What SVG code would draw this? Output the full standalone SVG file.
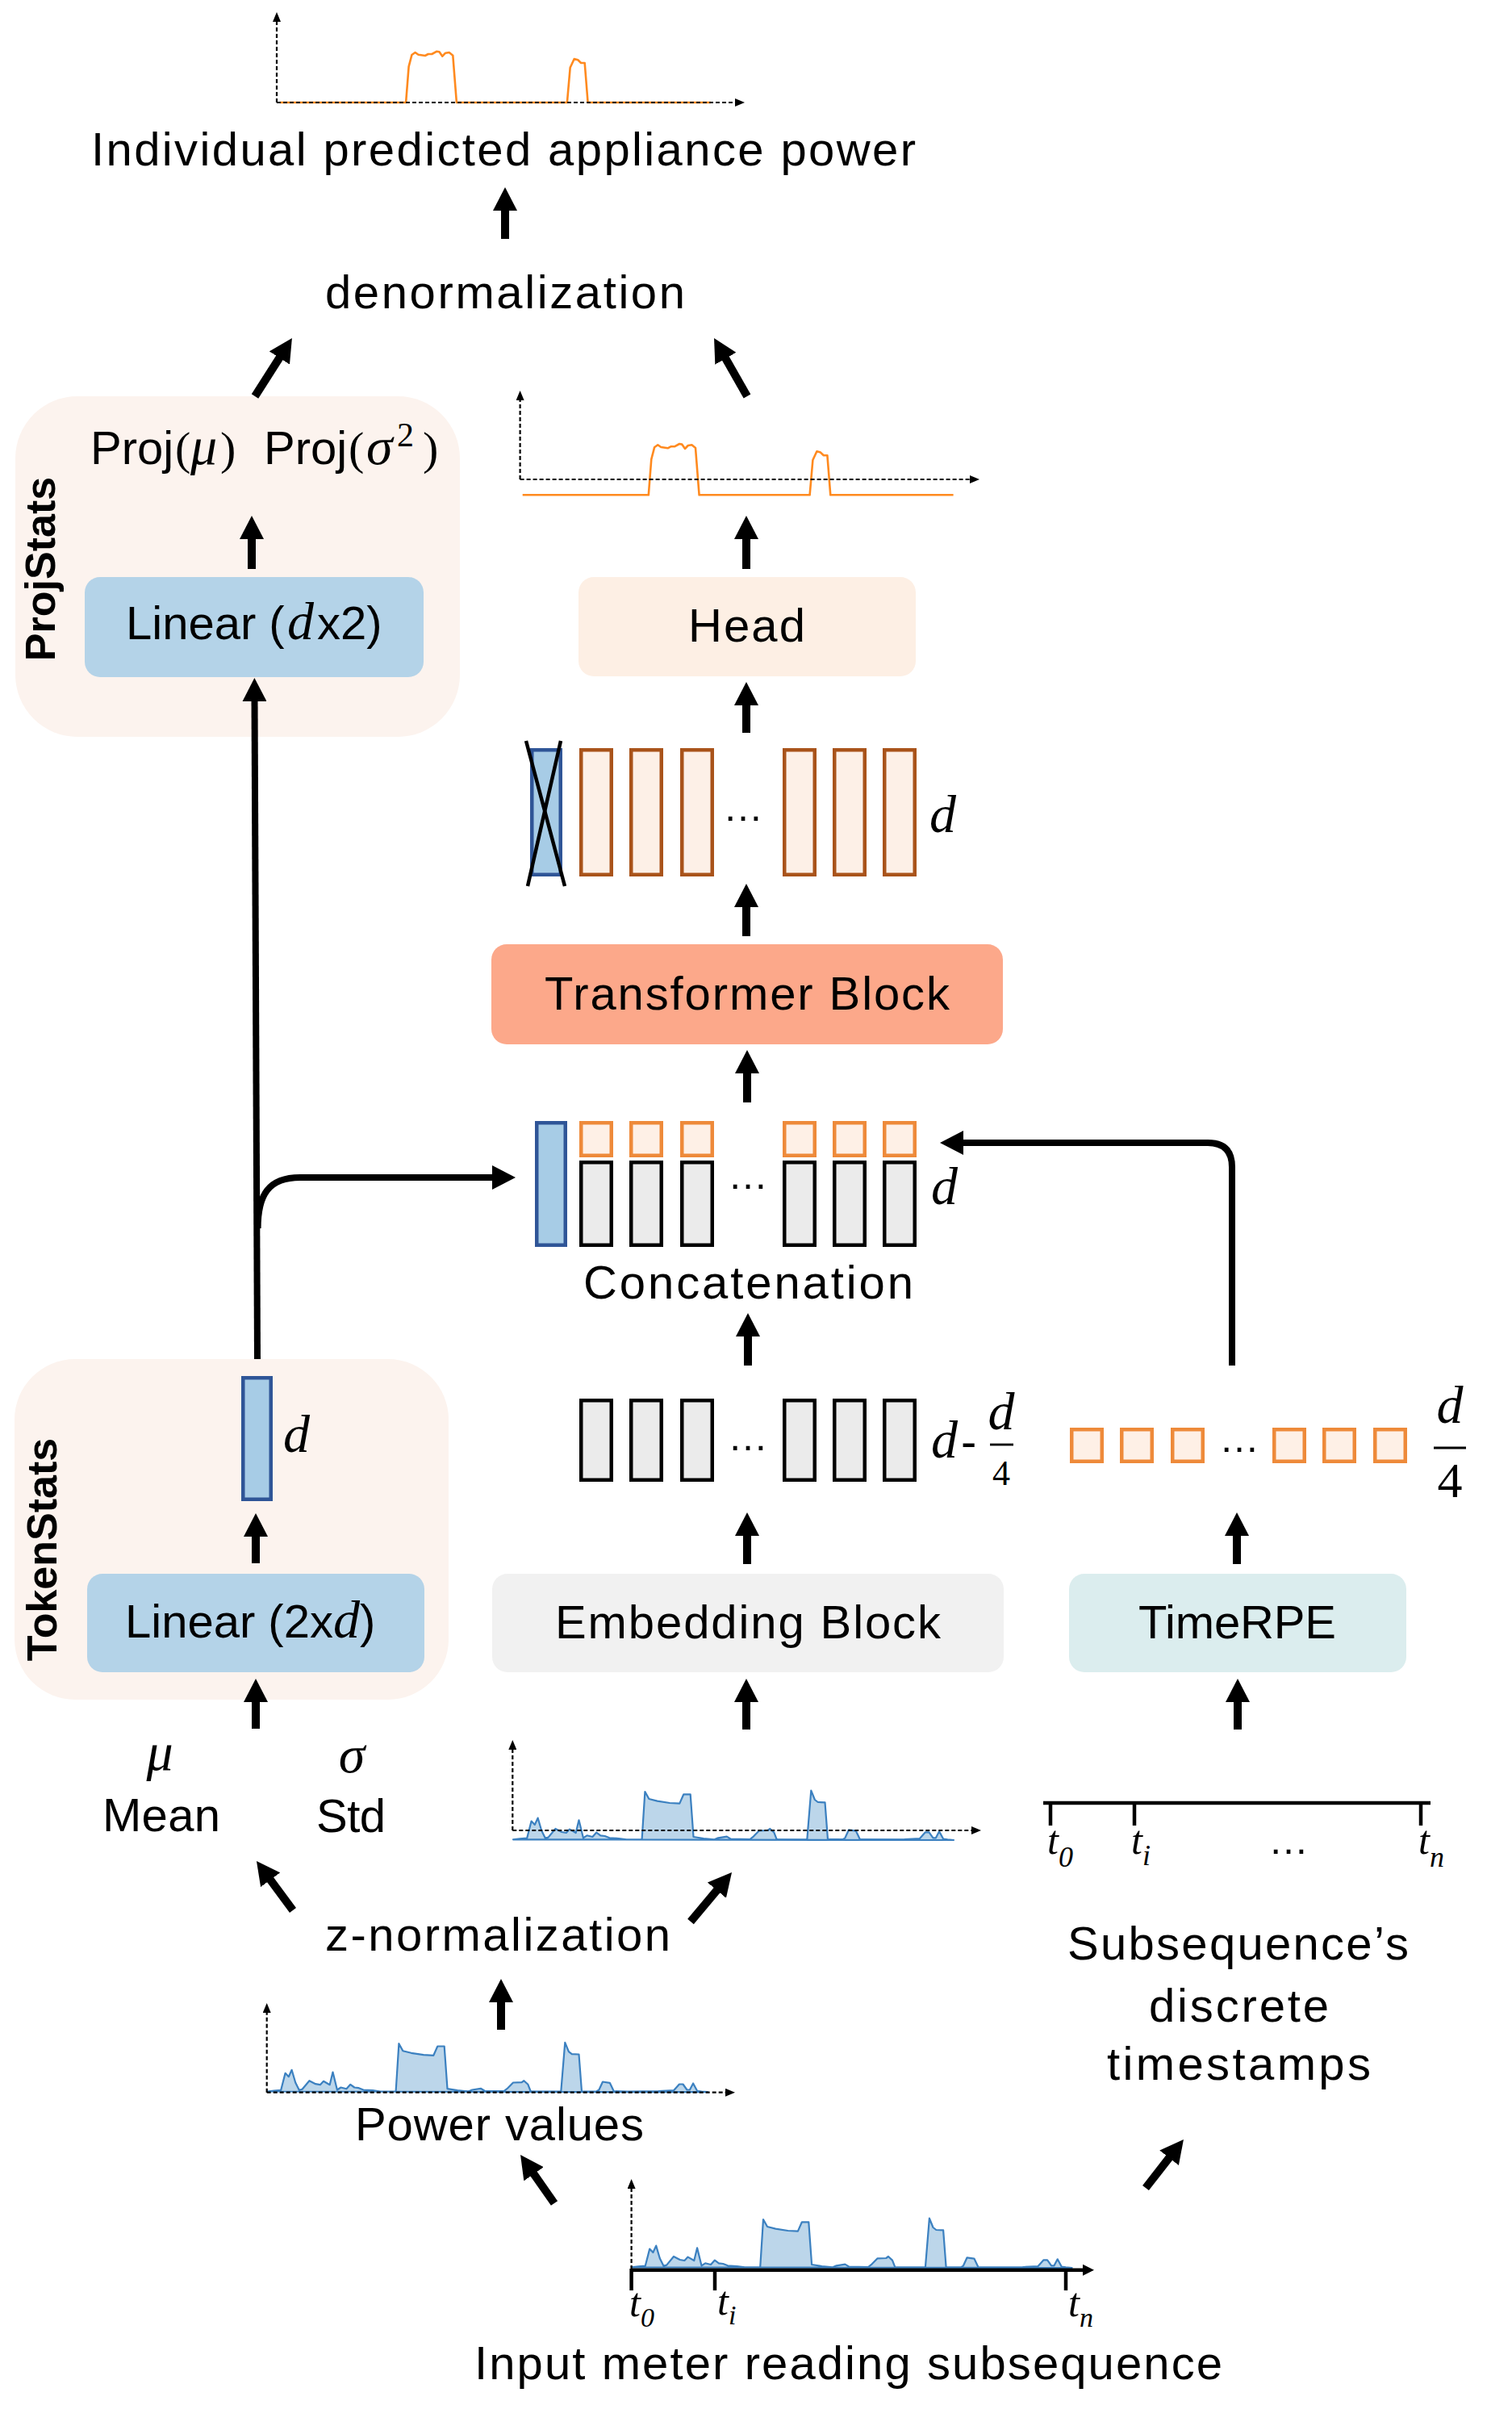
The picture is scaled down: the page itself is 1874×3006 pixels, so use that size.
<svg xmlns="http://www.w3.org/2000/svg" xmlns:xlink="http://www.w3.org/1999/xlink" width="1874" height="3006" viewBox="0 0 1874 3006">
<style>
.t{font-family:"Liberation Sans",Arial,sans-serif;font-size:58px;fill:#000}
.m{font-family:"Liberation Serif","Times New Roman",serif;font-style:italic;font-size:66px;fill:#000}
.mr{font-family:"Liberation Serif","Times New Roman",serif;font-style:normal}
.lab{font-family:"Liberation Sans",Arial,sans-serif;font-weight:bold;font-size:52px;fill:#000}
.dots{font-family:"Liberation Sans",Arial,sans-serif;font-size:50px;fill:#000;text-anchor:middle}
.arr{stroke:#000;stroke-width:10;fill:none;marker-end:url(#ah)}
.con{stroke:#000;stroke-width:8;fill:none;marker-end:url(#ah)}
.ax{stroke:#000;stroke-width:2.2;stroke-dasharray:5 3;fill:none;marker-end:url(#sa)}
.sig{fill:#BCD6EA;stroke:#3B80C0;stroke-width:2.2;stroke-linejoin:round}
.osig{fill:none;stroke:#FF8A1F;stroke-width:2.6;stroke-linejoin:round}
.tg{fill:#EBEBEB;stroke:#000;stroke-width:4.5}
.tb{fill:#A7CCE6;stroke:#2F5597;stroke-width:4.5}
.tbr{fill:#FDF0E7;stroke:#A9531A;stroke-width:4.5}
.to{fill:#FEF0E6;stroke:#EE8A3A;stroke-width:4.5}
.tick{stroke:#000;stroke-width:4.5}
.ts{font-family:"Liberation Serif","Times New Roman",serif;font-style:italic;font-size:50px;fill:#000}
</style>
<defs>
<marker id="ah" viewBox="0 0 29 30" refX="2" refY="15" markerWidth="29" markerHeight="30" markerUnits="userSpaceOnUse" orient="auto"><path d="M0,0 L29,15 L0,30 Z" fill="#000"/></marker>
<marker id="sa" viewBox="0 0 12 10" refX="1" refY="5" markerWidth="12" markerHeight="10" markerUnits="userSpaceOnUse" orient="auto"><path d="M0,0 L12,5 L0,10 Z" fill="#000"/></marker>
<marker id="sb" viewBox="0 0 14 14" refX="1" refY="7" markerWidth="14" markerHeight="14" markerUnits="userSpaceOnUse" orient="auto"><path d="M0,0 L14,7 L0,14 Z" fill="#000"/></marker>
<path id="sig" d="M0,0 L8.4,-1 L17.2,-1.7 L22.6,-22.7 L26.8,-18.3 L30.6,-26.7 L35.2,-11 L39.8,-1.7 L43.6,-2.7 L52.4,-13.3 L60.1,-9.3 L65.8,-8.3 L70,-12.7 L77.7,-8.3 L81.5,-24 L86.9,-2 L91.5,-5 L98.4,-3.3 L103.3,-8.7 L108.3,-5 L113.7,-4.3 L119.4,-2 L130.9,-1.3 L140.5,0 L159.6,0 L163.4,-59.3 L168.4,-50.3 L178.7,-47.7 L194,-45.3 L206.3,-44.7 L211.3,-56 L219.7,-56 L223.5,-3.3 L236.1,-1.3 L249.5,0 L254.1,-2 L264.8,-3.7 L269.8,-0.7 L293.5,-0.3 L298.1,-4 L305,-11 L315.7,-11.3 L318.4,-13.3 L323.4,-8.7 L326.8,0 L364.3,0 L369.3,-60.7 L373.9,-49.3 L377.7,-46.3 L386.5,-46 L390,0 L408.3,0 L411.4,-2 L416,-12 L424.8,-10.7 L429.8,-0.3 L446.6,0 L484.9,-0.3 L504,-1.3 L510.9,-9 L515.5,-9 L520.5,-2 L523.9,-2 L528.1,-10 L533.1,-0.7 L538.5,0 L546,0.7 Z"/>
<path id="osig" d="M0,0 L156.1,0 L159.6,-44.3 L163.4,-59 L167.6,-62 L171.5,-59.3 L179.9,-58 L183.7,-60 L188.3,-60 L194.4,-63.3 L197.5,-62.7 L201.3,-57.3 L205.1,-61.3 L209.7,-62 L214.3,-58.3 L218.9,0 L355.9,0 L359.7,-43.3 L364.7,-54 L369.3,-52.7 L373.1,-49 L377.7,-49 L381.6,0 L533.9,0"/>
</defs>
<rect width="1874" height="3006" fill="#fff"/>

<g id="output-plot">
<use xlink:href="#osig" href="#osig" class="osig" transform="translate(347,127)"/>
<path class="ax" d="M343,127 L343,26"/>
<path class="ax" d="M343,127 L912,127"/>
</g>
<g id="title"><text class="t" x="113" y="205" textLength="1022" lengthAdjust="spacing">Individual predicted appliance power</text></g>
<g id="denormalization"><text class="t" x="403" y="382" textLength="446" lengthAdjust="spacing">denormalization</text></g>

<g id="projstats">
<rect x="19" y="491" width="551" height="422" rx="77" fill="#FCF3EE"/>
<text class="lab" transform="translate(68,705) rotate(-90)" text-anchor="middle">ProjStats</text>
<text class="t" x="112" y="575">Proj<tspan class="mr" x="217">(</tspan><tspan class="m" x="236" font-size="60">μ</tspan><tspan class="mr" x="273">)</tspan></text>
<text class="t" x="327" y="575">Proj<tspan class="mr" x="432">(</tspan><tspan class="m" x="454" font-size="60">σ</tspan><tspan class="mr" x="492" y="553" font-size="42">2</tspan><tspan class="mr" x="524" y="575">)</tspan></text>
<rect x="105" y="715" width="420" height="124" rx="19" fill="#B4D3E8"/>
<text class="t" x="156" y="792">Linear (<tspan class="m" x="356" font-size="62">d</tspan><tspan x="393">x2)</tspan></text>
</g>

<g id="head-plot">
<use xlink:href="#osig" href="#osig" class="osig" transform="translate(647.7,613.3)"/>
<path class="ax" d="M644.6,594 L644.6,495"/>
<path class="ax" d="M644.6,594 L1203,594"/>
</g>

<g id="head">
<rect x="717" y="715" width="418" height="123" rx="19" fill="#FDEFE4"/>
<text class="t" x="853" y="795" textLength="145" lengthAdjust="spacing">Head</text>
</g>

<g id="output-tokens">
<rect class="tb" x="659.25" y="929.25" width="35.5" height="154.5"/>
<line x1="652" y1="918" x2="700" y2="1098" stroke="#000" stroke-width="4.5"/>
<line x1="695" y1="918" x2="654" y2="1098" stroke="#000" stroke-width="4.5"/>
<rect class="tbr" x="720.25" y="929.25" width="37.5" height="154.5"/>
<rect class="tbr" x="782.25" y="929.25" width="37.5" height="154.5"/>
<rect class="tbr" x="845.25" y="929.25" width="37.5" height="154.5"/>
<rect class="tbr" x="972.25" y="929.25" width="37.5" height="154.5"/>
<rect class="tbr" x="1034.25" y="929.25" width="37.5" height="154.5"/>
<rect class="tbr" x="1096.25" y="929.25" width="37.5" height="154.5"/>
<text class="dots" x="921" y="1017">…</text>
<text class="m" x="1152" y="1031">d</text>
</g>

<g id="transformer">
<rect x="609" y="1170" width="634" height="124" rx="19" fill="#FCA88A"/>
<text class="t" x="675" y="1251" textLength="502" lengthAdjust="spacing">Transformer Block</text>
</g>

<g id="concatenation">
<rect class="tb" x="665.25" y="1391.25" width="35.5" height="151.5"/>
<rect class="to" x="720.25" y="1391.25" width="37.5" height="40.5"/>
<rect class="to" x="782.25" y="1391.25" width="37.5" height="40.5"/>
<rect class="to" x="845.25" y="1391.25" width="37.5" height="40.5"/>
<rect class="to" x="972.25" y="1391.25" width="37.5" height="40.5"/>
<rect class="to" x="1034.25" y="1391.25" width="37.5" height="40.5"/>
<rect class="to" x="1096.25" y="1391.25" width="37.5" height="40.5"/>
<rect class="tg" x="720.25" y="1440.25" width="37.5" height="102.5"/>
<rect class="tg" x="782.25" y="1440.25" width="37.5" height="102.5"/>
<rect class="tg" x="845.25" y="1440.25" width="37.5" height="102.5"/>
<rect class="tg" x="972.25" y="1440.25" width="37.5" height="102.5"/>
<rect class="tg" x="1034.25" y="1440.25" width="37.5" height="102.5"/>
<rect class="tg" x="1096.25" y="1440.25" width="37.5" height="102.5"/>
<text class="dots" x="927" y="1473">…</text>
<text class="m" x="1154" y="1492">d</text>
<text class="t" x="723" y="1609" textLength="409" lengthAdjust="spacing">Concatenation</text>
</g>

<g id="tokenstats">
<rect x="18" y="1684" width="538" height="422" rx="75" fill="#FCF3EE"/>
<text class="lab" transform="translate(70,1920) rotate(-90)" text-anchor="middle">TokenStats</text>
<rect class="tb" x="301.25" y="1707.25" width="34.5" height="150.5"/>
<text class="m" x="351" y="1799">d</text>
<rect x="108" y="1950" width="418" height="122" rx="19" fill="#B4D3E8"/>
<text class="t" x="155" y="2029">Linear (2x<tspan class="m" font-size="62">d</tspan>)</text>
</g>

<g id="embedding-tokens">
<rect class="tg" x="720.25" y="1735.25" width="37.5" height="98.5"/>
<rect class="tg" x="782.25" y="1735.25" width="37.5" height="98.5"/>
<rect class="tg" x="845.25" y="1735.25" width="37.5" height="98.5"/>
<rect class="tg" x="972.25" y="1735.25" width="37.5" height="98.5"/>
<rect class="tg" x="1034.25" y="1735.25" width="37.5" height="98.5"/>
<rect class="tg" x="1096.25" y="1735.25" width="37.5" height="98.5"/>
<text class="dots" x="927" y="1797">…</text>
<text class="m" x="1154" y="1806" font-size="64">d</text>
<text class="t" x="1191" y="1806">-</text>
<text class="m" x="1241" y="1771" font-size="44" text-anchor="middle">d</text>
<line x1="1227" y1="1790" x2="1256" y2="1790" stroke="#000" stroke-width="2.8"/>
<text class="mr" x="1241" y="1840" font-size="44" text-anchor="middle">4</text>
</g>

<g id="time-tokens">
<rect class="to" x="1328.25" y="1771.25" width="37.5" height="39.5"/>
<rect class="to" x="1390.25" y="1771.25" width="37.5" height="39.5"/>
<rect class="to" x="1453.25" y="1771.25" width="37.5" height="39.5"/>
<rect class="to" x="1579.25" y="1771.25" width="37.5" height="39.5"/>
<rect class="to" x="1641.25" y="1771.25" width="37.5" height="39.5"/>
<rect class="to" x="1704.25" y="1771.25" width="37.5" height="39.5"/>
<text class="dots" x="1536" y="1799">…</text>
<text class="m" x="1797" y="1763" font-size="64" text-anchor="middle">d</text>
<line x1="1777" y1="1794" x2="1817" y2="1794" stroke="#000" stroke-width="3.2"/>
<text class="mr" x="1797" y="1855" font-size="62" text-anchor="middle">4</text>
</g>

<g id="embedding">
<rect x="610" y="1950" width="634" height="122" rx="19" fill="#F1F1F1"/>
<text class="t" x="688" y="2030" textLength="478" lengthAdjust="spacing">Embedding Block</text>
</g>

<g id="timerpe">
<rect x="1325" y="1950" width="418" height="122" rx="19" fill="#DBEDEE"/>
<text class="t" x="1411" y="2030" textLength="245" lengthAdjust="spacing">TimeRPE</text>
</g>

<g id="mean-std">
<text class="m" x="198" y="2193" font-size="62" text-anchor="middle">μ</text>
<text class="t" x="127" y="2269" textLength="146" lengthAdjust="spacing">Mean</text>
<text class="m" x="436" y="2196" font-size="62" text-anchor="middle">σ</text>
<text class="t" x="392" y="2270" textLength="86" lengthAdjust="spacing">Std</text>
</g>

<g id="znorm-plot">
<use xlink:href="#sig" href="#sig" class="sig" transform="translate(636,2279.3)"/>
<path class="ax" d="M635.3,2268 L635.3,2167"/>
<path class="ax" d="M635.3,2268 L1205,2268"/>
</g>

<g id="timeline">
<line x1="1293" y1="2234" x2="1773" y2="2234" stroke="#000" stroke-width="4.5"/>
<line class="tick" x1="1302" y1="2234" x2="1302" y2="2262"/>
<line class="tick" x1="1406" y1="2234" x2="1406" y2="2262"/>
<line class="tick" x1="1761" y1="2234" x2="1761" y2="2262"/>
<text class="ts" x="1298" y="2297">t<tspan font-size="36" dy="16">0</tspan></text>
<text class="ts" x="1402" y="2297">t<tspan font-size="36" dy="14">i</tspan></text>
<text class="dots" x="1597" y="2297">…</text>
<text class="ts" x="1758" y="2297">t<tspan font-size="36" dy="16">n</tspan></text>
</g>

<g id="znormalization"><text class="t" x="403" y="2417" textLength="428" lengthAdjust="spacing">z-normalization</text></g>

<g id="power-values">
<use xlink:href="#sig" href="#sig" class="sig" transform="translate(331,2591.5)"/>
<path class="ax" d="M330.7,2592.7 L330.7,2493"/>
<path class="ax" d="M330.7,2592.7 L900,2592.7"/>
<text class="t" x="440" y="2652" textLength="358" lengthAdjust="spacing">Power values</text>
</g>

<g id="subsequence-timestamps">
<text class="t" x="1323" y="2428" textLength="423" lengthAdjust="spacing">Subsequence’s</text>
<text class="t" x="1424" y="2505" textLength="223" lengthAdjust="spacing">discrete</text>
<text class="t" x="1372" y="2577" textLength="327" lengthAdjust="spacing">timestamps</text>
</g>

<g id="input-subsequence">
<use xlink:href="#sig" href="#sig" class="sig" transform="translate(782.6,2809.3)"/>
<path class="ax" d="M782.6,2812 L782.6,2711"/>
<path d="M782.6,2812.7 L1343,2812.7" stroke="#000" stroke-width="4.5" fill="none" marker-end="url(#sb)"/>
<line class="tick" x1="782.6" y1="2811" x2="782.6" y2="2838"/>
<line class="tick" x1="886" y1="2811" x2="886" y2="2838"/>
<line class="tick" x1="1321" y1="2811" x2="1321" y2="2838"/>
<text class="ts" x="780" y="2870">t<tspan font-size="34" dy="13">0</tspan></text>
<text class="ts" x="889" y="2868">t<tspan font-size="34" dy="12">i</tspan></text>
<text class="ts" x="1324" y="2870">t<tspan font-size="34" dy="13">n</tspan></text>
<text class="t" x="588" y="2948" textLength="927" lengthAdjust="spacing">Input meter reading subsequence</text>
</g>

<g id="connectors">
<path class="arr" d="M626,296 L626,259"/>
<path class="arr" d="M316,491 L347.4,441.8"/>
<path class="arr" d="M926,491 L898.4,442.5"/>
<path class="arr" d="M312,705 L312,666"/>
<path class="con" d="M319,1684 L315.5,867"/>
<path class="con" d="M319.6,1522 C319.6,1480 333,1459 372,1459 L612,1459"/>
<path class="arr" d="M925,705 L925,666"/>
<path class="arr" d="M925,908 L925,872"/>
<path class="arr" d="M925,1160 L925,1122"/>
<path class="arr" d="M926,1366 L926,1328"/>
<path class="arr" d="M927,1692 L927,1654"/>
<path class="con" d="M1527,1692 L1527,1446 Q1527,1416 1497,1416 L1192,1416"/>
<path class="arr" d="M317,1937 L317,1902"/>
<path class="arr" d="M926,1938 L926,1901"/>
<path class="arr" d="M1533,1938 L1533,1901"/>
<path class="arr" d="M317,2142 L317,2107"/>
<path class="arr" d="M925,2143 L925,2107"/>
<path class="arr" d="M1534,2143 L1534,2107"/>
<path class="arr" d="M363,2367 L334,2327.7"/>
<path class="arr" d="M856,2381 L889.7,2340.7"/>
<path class="arr" d="M621,2515 L621,2479"/>
<path class="arr" d="M687,2730 L660.5,2692.1"/>
<path class="arr" d="M1420,2711 L1450.3,2672.2"/>
</g>
</svg>
